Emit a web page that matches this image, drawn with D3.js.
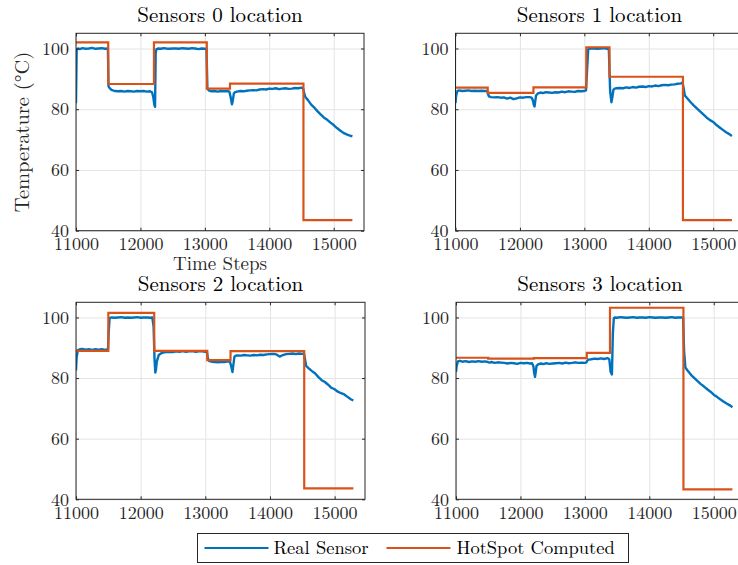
<!DOCTYPE html>
<html>
<head>
<meta charset="utf-8">
<script src="https://cdn.jsdelivr.net/npm/d3@7/dist/d3.min.js"></script>
<style>
  html, body { margin: 0; padding: 0; background: #fff; }
  svg { display: block; }
</style>
</head>
<body>
<svg id="chart" width="738" height="565"></svg>
<script>
// ---- data -------------------------------------------------------------
const panelTitles = ["Sensors 0 location", "Sensors 1 location", "Sensors 2 location", "Sensors 3 location"];
const seriesNames = ["Real Sensor", "HotSpot Computed"];
const xTicks = [11000, 12000, 13000, 14000, 15000];
const yTicks = [40, 60, 80, 100];

// time steps at which the sensor readings were sampled
const sensorTime = [
  11000, 11010, 11030, 11060, 11100, 11150, 11200, 11250, 11300, 11350,
  11400, 11450, 11495, 11505, 11520, 11550, 11600, 11650, 11700, 11750,
  11800, 11850, 11900, 11950, 12000, 12050, 12100, 12150, 12180, 12200,
  12215, 12227, 12237, 12250, 12280, 12320, 12360, 12400, 12450, 12500,
  12550, 12600, 12650, 12700, 12750, 12800, 12850, 12900, 12950, 13000,
  13025, 13040, 13060, 13100, 13150, 13200, 13250, 13300, 13350, 13380,
  13400, 13420, 13435, 13450, 13470, 13500, 13550, 13600, 13650, 13700,
  13750, 13800, 13850, 13900, 13950, 14000, 14050, 14100, 14150, 14200,
  14250, 14300, 14350, 14400, 14450, 14500, 14525, 14540, 14560, 14600,
  14650, 14700, 14750, 14800, 14850, 14900, 14950, 15000, 15050, 15100,
  15150, 15200, 15250, 15290
];

const sensorReal0 = [
  82, 99.5, 100, 99.8, 100.1, 99.9, 100, 100.2, 99.9, 100,
  100.1, 99.9, 100, 87.5, 87, 86.4, 86, 85.9, 86, 85.8,
  86, 85.9, 85.8, 86, 85.9, 86, 85.8, 85.9, 85.6, 84,
  81.5, 80.8, 98.5, 99.8, 100, 99.9, 100.1, 100, 99.9, 100,
  100, 99.9, 100.1, 100, 99.9, 100.1, 100, 99.8, 100, 99.9,
  99.8, 86.8, 86.2, 85.9, 86, 85.8, 86, 85.9, 86, 85.8,
  84, 81.6, 83, 85.2, 85.6, 85.8, 86, 85.9, 86.1, 86.2,
  86.3, 86.2, 86.5, 86.6, 86.5, 86.8, 86.7, 86.9, 86.6, 86.8,
  86.9, 86.7, 86.8, 87, 86.9, 87.1, 86.8, 85.5, 84, 83,
  81.5, 80.5, 79.3, 78.2, 77.2, 76.5, 75.6, 74.8, 73.8, 73,
  72.2, 71.7, 71.3, 71.1
];
const sensorReal1 = [
  82, 84.5, 86, 86.2, 86, 86.1, 86.2, 86, 86.1, 86,
  86.1, 86, 86, 85, 84.2, 84, 83.9, 84, 83.8, 83.9,
  83.5, 83.8, 83.3, 83.6, 83.9, 83.8, 84, 84, 83.8, 83,
  81.5, 80.9, 82.5, 84.5, 85.2, 85.5, 85.3, 85.6, 85.5, 85.4,
  85.6, 85.5, 85.8, 85.6, 85.9, 85.8, 85.7, 86, 85.9, 86,
  86.2, 92, 99.8, 100, 100, 99.9, 100, 100.1, 99.9, 99.8,
  86, 82.3, 84, 86.3, 86.8, 86.9, 87, 86.9, 87.2, 87,
  87.3, 87.1, 87.4, 87.5, 87.3, 87.6, 87.5, 87.8, 87.6, 87.9,
  88, 87.9, 88.1, 88.2, 88.4, 88.5, 88.8, 87, 84.5, 83.5,
  82.3, 81.2, 80.2, 79.2, 78.2, 77.2, 76.4, 75.8, 74.8, 74,
  73.2, 72.4, 71.8, 71.2
];
const sensorReal2 = [
  82.5, 87, 89.2, 89.5, 89.6, 89.4, 89.5, 89.3, 89.5, 89.4,
  89.5, 89.3, 89.5, 95, 99.8, 100, 99.9, 100, 100.1, 99.9,
  100, 99.9, 100, 100.1, 99.9, 100, 100, 99.9, 100, 97,
  86, 81.8, 82.8, 85.5, 87.6, 88.2, 88.5, 88.6, 88.7, 88.6,
  88.8, 88.7, 88.9, 88.7, 88.8, 88.9, 88.7, 88.8, 88.8, 88.7,
  88.6, 86.5, 85.6, 85.4, 85.3, 85.2, 85.4, 85.3, 85.5, 85.4,
  84, 82, 84.5, 87, 87.4, 87.5, 87.4, 87.6, 87.5, 87.4,
  87.6, 87.5, 87.7, 87.6, 87.8, 87.9, 88, 87.8, 87.1, 87.6,
  87.9, 88, 88.1, 87.9, 88.1, 88, 88.1, 86.5, 84, 83.2,
  82.3, 81.5, 80.3, 79.3, 78.7, 77.8, 76.8, 76.3, 75.5, 75,
  74.6, 73.8, 73, 72.6
];
const sensorReal3 = [
  82, 84, 85.5, 85.7, 85.4, 85.6, 85.3, 85.5, 85.4, 85.6,
  85.4, 85.5, 85.3, 85.2, 85.1, 85.3, 85, 85.2, 85.1, 85,
  84.8, 85, 84.9, 84.7, 85, 84.9, 85, 84.8, 84.9, 84,
  81.5, 80.4, 82, 84, 84.6, 84.8, 84.6, 84.9, 84.7, 84.8,
  84.9, 85, 84.8, 85.1, 84.9, 85, 85.2, 85, 85.1, 85,
  85.2, 85.8, 86.1, 86.2, 86.4, 86.3, 86.5, 86.3, 86.6, 86.2,
  82, 81.2, 95, 99.8, 100, 99.9, 100.1, 100, 99.9, 100,
  100.1, 99.9, 100, 100, 99.9, 100.1, 100, 99.9, 100, 100,
  99.9, 100, 100.1, 99.9, 100, 100, 99.9, 89, 83.5, 82.3,
  81, 80, 79, 78, 77.2, 76.3, 75.5, 74.5, 73.8, 73,
  72.3, 71.6, 71, 70.4
];

// HotSpot model output: piecewise-constant levels between these time steps
const hotspotEdges = [11000, 11500, 12210, 13030, 13390, 14530, 15290];
const hotspotLevels0 = [102, 88.3, 102, 86.8, 88.4, 43.5];
const hotspotLevels1 = [87.1, 85.4, 87.2, 100.4, 90.7, 43.5];
const hotspotLevels2 = [89.0, 101.5, 89.0, 85.9, 88.9, 43.6];
const hotspotLevels3 = [86.7, 86.4, 86.6, 88.3, 103.2, 43.3];

const realSeries = [sensorReal0, sensorReal1, sensorReal2, sensorReal3];
const hotspotSeries = [hotspotLevels0, hotspotLevels1, hotspotLevels2, hotspotLevels3];

// ---- layout -----------------------------------------------------------
const FONT = '"Latin Modern Roman", "CMU Serif", "Liberation Serif", serif';
const BLUE = "#0072BD", ORANGE = "#D95319", AXIS = "#262626", GRID = "#e3e3e3";
const panels = [
  { left: 76,    top: 33.3,  width: 288, height: 197.4 },
  { left: 455.5, top: 33.3,  width: 288, height: 197.4 },
  { left: 76,    top: 302.3, width: 289, height: 197 },
  { left: 456,   top: 302.3, width: 288, height: 197 }
];

const svg = d3.select("#chart");
svg.append("rect").attr("width", 738).attr("height", 565).attr("fill", "#fff");

function styleText(sel, size, color) {
  sel.style("font-family", FONT).style("font-size", size + "px").attr("fill", color);
}

panels.forEach((p, i) => {
  const x = d3.scaleLinear().domain([11000, 15470]).range([0, p.width]);
  const y = d3.scaleLinear().domain([40, 105]).range([p.height, 0]);
  const g = svg.append("g").attr("transform", `translate(${p.left},${p.top})`);

  g.append("clipPath").attr("id", "clip" + i)
    .append("rect").attr("width", p.width).attr("height", p.height);

  // grid
  g.append("g").attr("transform", `translate(0,${p.height})`)
    .call(d3.axisBottom(x).tickValues(xTicks).tickSize(-p.height).tickFormat(""))
    .call(a => a.select(".domain").remove())
    .call(a => a.selectAll("line").attr("stroke", GRID));
  g.append("g")
    .call(d3.axisLeft(y).tickValues(yTicks).tickSize(-p.width).tickFormat(""))
    .call(a => a.select(".domain").remove())
    .call(a => a.selectAll("line").attr("stroke", GRID));

  const plot = g.append("g").attr("clip-path", `url(#clip${i})`);

  // measured temperature
  const real = realSeries[i];
  const realLine = d3.line().x((d, k) => x(sensorTime[k])).y(d => y(d));
  plot.append("path").datum(real)
    .attr("d", realLine)
    .attr("fill", "none").attr("stroke", BLUE).attr("stroke-width", 2.4)
    .attr("stroke-linejoin", "round");

  // HotSpot computed steps
  const levels = hotspotSeries[i];
  const stepPts = levels.map((v, k) => [hotspotEdges[k], v]);
  stepPts.push([hotspotEdges[hotspotEdges.length - 1], levels[levels.length - 1]]);
  const stepLine = d3.line().x(d => x(d[0])).y(d => y(d[1])).curve(d3.curveStepAfter);
  plot.append("path").datum(stepPts)
    .attr("d", stepLine)
    .attr("fill", "none").attr("stroke", ORANGE).attr("stroke-width", 2.2);

  // axes with inward ticks
  const tickLen = 3;
  g.append("g").attr("transform", `translate(0,${p.height})`)
    .call(d3.axisBottom(x).tickValues(xTicks).tickSizeInner(-tickLen).tickSizeOuter(0).tickPadding(7).tickFormat(d3.format("d")))
    .call(a => a.select(".domain").remove())
    .call(a => a.selectAll("line").attr("stroke", AXIS))
    .call(a => a.selectAll("text").call(styleText, 18, AXIS));
  g.append("g")
    .call(d3.axisLeft(y).tickValues(yTicks).tickSizeInner(-tickLen).tickSizeOuter(0).tickPadding(7))
    .call(a => a.select(".domain").remove())
    .call(a => a.selectAll("line").attr("stroke", AXIS))
    .call(a => a.selectAll("text").call(styleText, 18, AXIS));
  // top / right ticks
  g.append("g")
    .call(d3.axisTop(x).tickValues(xTicks).tickSizeInner(-tickLen).tickSizeOuter(0).tickFormat(""))
    .call(a => a.select(".domain").remove())
    .call(a => a.selectAll("line").attr("stroke", AXIS));
  g.append("g").attr("transform", `translate(${p.width},0)`)
    .call(d3.axisRight(y).tickValues(yTicks).tickSizeInner(-tickLen).tickSizeOuter(0).tickFormat(""))
    .call(a => a.select(".domain").remove())
    .call(a => a.selectAll("line").attr("stroke", AXIS));

  g.append("rect").attr("width", p.width).attr("height", p.height)
    .attr("fill", "none").attr("stroke", AXIS).attr("stroke-width", 1);

  // title
  g.append("text").attr("x", p.width / 2).attr("y", -11.5)
    .attr("text-anchor", "middle").call(styleText, 21, "#000")
    .text(panelTitles[i]);
});

// axis labels (first panel only)
svg.append("text").attr("x", 220).attr("y", 270)
  .attr("text-anchor", "middle").call(styleText, 19, AXIS)
  .text("Time Steps");
svg.append("text")
  .attr("transform", "translate(29,132) rotate(-90)")
  .attr("text-anchor", "middle").call(styleText, 20.5, AXIS)
  .text("Temperature (°C)");

// legend
const leg = svg.append("g").attr("transform", "translate(197.5,533.5)");
leg.append("rect").attr("width", 431).attr("height", 29)
  .attr("fill", "#fff").attr("stroke", AXIS).attr("stroke-width", 1);
const legendItems = [
  { name: seriesNames[0], color: BLUE,   x0: 7,   x1: 71,  tx: 76 },
  { name: seriesNames[1], color: ORANGE, x0: 189, x1: 253, tx: 259 }
];
legendItems.forEach(it => {
  leg.append("line").attr("x1", it.x0).attr("x2", it.x1).attr("y1", 14.5).attr("y2", 14.5)
    .attr("stroke", it.color).attr("stroke-width", 2);
  leg.append("text").attr("x", it.tx).attr("y", 20.5)
    .call(styleText, 18.5, "#000").text(it.name);
});
</script>
</body>
</html>
